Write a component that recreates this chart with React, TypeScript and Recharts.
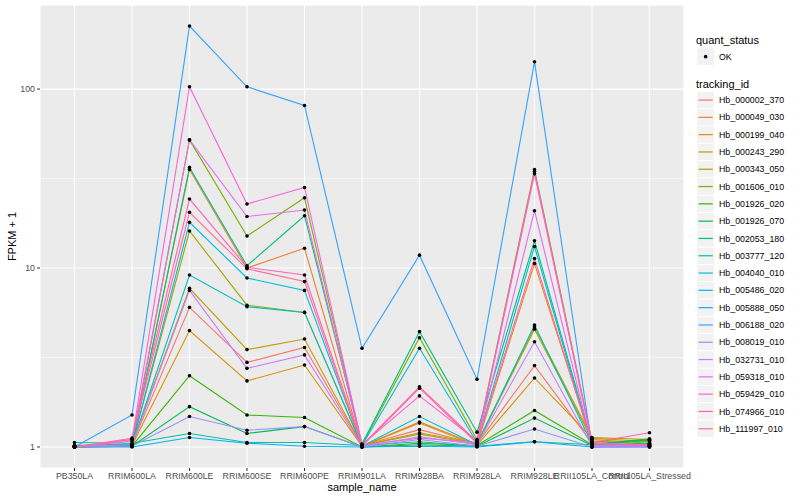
import { CartesianGrid, Line, LineChart, ReferenceLine, XAxis, YAxis } from 'recharts'

const samples = [
  'PB350LA', 'RRIM600LA', 'RRIM600LE', 'RRIM600SE', 'RRIM600PE', 'RRIM901LA',
  'RRIM928BA', 'RRIM928LA', 'RRIM928LE', 'RRII105LA_Control', 'RRII105LA_Stressed',
]

const trackingIds = [
  'Hb_000002_370', 'Hb_000049_030', 'Hb_000199_040', 'Hb_000243_290', 'Hb_000343_050',
  'Hb_001606_010', 'Hb_001926_020', 'Hb_001926_070', 'Hb_002053_180', 'Hb_003777_120',
  'Hb_004040_010', 'Hb_005486_020', 'Hb_005888_050', 'Hb_006188_020', 'Hb_008019_010',
  'Hb_032731_010', 'Hb_059318_010', 'Hb_059429_010', 'Hb_074966_010', 'Hb_111997_010',
]

// ggplot hue palette, 20 levels
const colors = [
  '#F8766D', '#EA8331', '#D89000', '#C09B00', '#A3A500', '#7CAE00', '#39B600', '#00BB4E',
  '#00BF7D', '#00C1A3', '#00BFC4', '#00BAE0', '#00B0F6', '#35A2FF', '#9590FF', '#C77CFF',
  '#E76BF3', '#FA62DB', '#FF62BC', '#FF6C91',
]

// FPKM + 1, one array per tracking_id, in sample order
const hb000002 = [1.01, 1.03, 6.03, 2.97, 3.6, 1.02, 1.25, 1.04, 2.85, 1.05, 1.02]
const hb000049 = [1.0, 1.02, 35.5, 10.0, 12.9, 1.01, 1.38, 1.03, 10.6, 1.06, 1.08]
const hb000199 = [1.01, 1.02, 4.47, 2.34, 2.87, 1.01, 1.36, 1.02, 2.43, 1.12, 1.07]
const hb000243 = [1.02, 1.04, 7.7, 3.5, 4.01, 1.02, 1.2, 1.05, 4.7, 1.13, 1.1]
const hb000343 = [1.02, 1.03, 16.1, 6.2, 5.65, 1.02, 1.18, 1.04, 4.55, 1.1, 1.05]
const hb001606 = [1.01, 1.04, 52, 15.1, 24.7, 1.03, 4.08, 1.1, 35.5, 1.08, 1.04]
const hb001926a = [1.0, 1.01, 2.5, 1.51, 1.46, 1.0, 1.05, 1.02, 1.6, 1.03, 1.11]
const hb001926b = [1.0, 1.01, 1.68, 1.19, 1.3, 1.0, 1.03, 1.01, 1.45, 1.02, 1.1]
const hb002053 = [1.01, 1.02, 36.5, 10.3, 19.6, 1.04, 4.41, 1.21, 14.2, 1.04, 1.09]
const hb003777 = [1.06, 1.05, 1.19, 1.06, 1.06, 1.02, 1.07, 1.01, 1.07, 1.03, 1.05]
const hb004040 = [1.02, 1.03, 9.14, 6.08, 5.65, 1.01, 1.48, 1.03, 4.8, 1.04, 1.03]
const hb005486 = [1.01, 1.02, 18, 8.8, 7.5, 1.02, 3.56, 1.06, 13.2, 1.02, 1.02]
const hb005888 = [1.0, 1.0, 1.13, 1.05, 1.01, 1.0, 1.01, 1.0, 1.07, 1.0, 1.0]
const hb006188 = [1.0, 1.51, 225, 103, 81, 3.56, 11.8, 2.39, 142, 1.0, 1.01]
const hb008019 = [1.0, 1.01, 1.48, 1.24, 1.3, 1.0, 1.1, 1.01, 1.26, 1.0, 1.0]
const hb032731 = [1.01, 1.03, 7.5, 2.75, 3.27, 1.01, 1.14, 1.03, 3.87, 1.01, 1.01]
const hb059318 = [1.0, 1.08, 52, 19.4, 21.1, 1.02, 1.12, 1.06, 20.9, 1.02, 1.02]
const hb059429 = [1.0, 1.1, 103, 22.8, 28.2, 1.03, 1.93, 1.08, 34.6, 1.05, 1.03]
const hb074966 = [1.0, 1.12, 24.3, 10.1, 9.14, 1.02, 2.17, 1.07, 33.6, 1.06, 1.2]
const hb111997 = [1.0, 1.1, 20.5, 9.9, 8.4, 1.01, 2.13, 1.05, 11.3, 1.04, 1.03]

const seriesValues = [
  hb000002, hb000049, hb000199, hb000243, hb000343, hb001606, hb001926a, hb001926b,
  hb002053, hb003777, hb004040, hb005486, hb005888, hb006188, hb008019, hb032731,
  hb059318, hb059429, hb074966, hb111997,
]

const yTicks = [1, 10, 100]
const yMinor = [3.1623, 31.623]

const data = samples.map((s, i) => {
  const row: Record<string, any> = { sample: s }
  trackingIds.forEach((id, k) => {
    row[id] = seriesValues[k][i]
  })
  return row
})

const font = '"Liberation Sans", Arial, Helvetica, sans-serif'

function LegendPanel() {
  const x0 = 697
  const key = 17.3
  const top = 91.4
  return (
    <svg width={800} height={500} style={{ position: 'absolute', left: 0, top: 0, pointerEvents: 'none' }}>
      <text x={696} y={44} fontSize={11} fontFamily={font} fill="#000">quant_status</text>
      <rect x={x0} y={48} width={key} height={key} fill="#F2F2F2" stroke="#fff" strokeWidth={0.8} />
      <circle cx={x0 + key / 2} cy={48 + key / 2} r={1.8} fill="#000" />
      <text x={719} y={60} fontSize={8.8} fontFamily={font} fill="#000">OK</text>
      <text x={696} y={88} fontSize={11} fontFamily={font} fill="#000">tracking_id</text>
      {trackingIds.map((id, i) => {
        const y = top + i * key
        return (
          <g key={id}>
            <rect x={x0} y={y} width={key} height={key} fill="#F2F2F2" stroke="#fff" strokeWidth={0.8} />
            <line x1={x0 + 1.5} x2={x0 + key - 1.5} y1={y + key / 2} y2={y + key / 2} stroke={colors[i]} strokeWidth={1.2} />
            <text x={719} y={y + key / 2 + 3.1} fontSize={8.8} fontFamily={font} fill="#000">{id}</text>
          </g>
        )
      })}
    </svg>
  )
}

export default function App() {
  return (
    <div style={{ position: 'absolute', left: 0, top: 0, width: 800, height: 500, background: '#fff' }}>
      <LineChart
        width={800}
        height={500}
        data={data}
        margin={{ top: 5, right: 116, left: 0, bottom: 0 }}
        style={{ fontFamily: font }}
      >
        <CartesianGrid fill="#EBEBEB" stroke="#fff" strokeWidth={1.1} />
        {yMinor.map((v) => (
          <ReferenceLine key={v} y={v} stroke="#fff" strokeWidth={0.55} ifOverflow="hidden" />
        ))}
        <XAxis
          dataKey="sample"
          type="category"
          scale="point"
          padding={{ left: 34.5, right: 34.5 }}
          height={32}
          axisLine={false}
          tickLine={{ stroke: '#333', strokeWidth: 1 }}
          tickSize={3}
          tickMargin={2}
          interval={0}
          tick={{ fontSize: 8.8, fill: '#4D4D4D' }}
          label={{ value: 'sample_name', position: 'insideBottom', offset: 9, fontSize: 11, fill: '#000' }}
        />
        <YAxis
          scale="log"
          domain={[0.763, 295]}
          allowDataOverflow
          ticks={yTicks}
          width={40}
          axisLine={false}
          tickLine={{ stroke: '#333', strokeWidth: 1 }}
          tickSize={3}
          tickMargin={2}
          tick={{ fontSize: 8.8, fill: '#4D4D4D' }}
          label={{
            value: 'FPKM + 1',
            angle: -90,
            position: 'insideLeft',
            offset: 12,
            fontSize: 11,
            fill: '#000',
            style: { textAnchor: 'middle' },
          }}
        />
        {trackingIds.map((id, k) => (
          <Line
            key={id}
            dataKey={id}
            stroke={colors[k]}
            strokeWidth={1.1}
            dot={false}
            activeDot={false}
            isAnimationActive={false}
            type="linear"
          />
        ))}
        {trackingIds.map((id) => (
          <Line
            key={id + '_pt'}
            dataKey={id}
            stroke="none"
            dot={{ r: 1.8, fill: '#000', stroke: 'none' }}
            activeDot={false}
            isAnimationActive={false}
            legendType="none"
          />
        ))}
      </LineChart>
      <LegendPanel />
    </div>
  )
}
